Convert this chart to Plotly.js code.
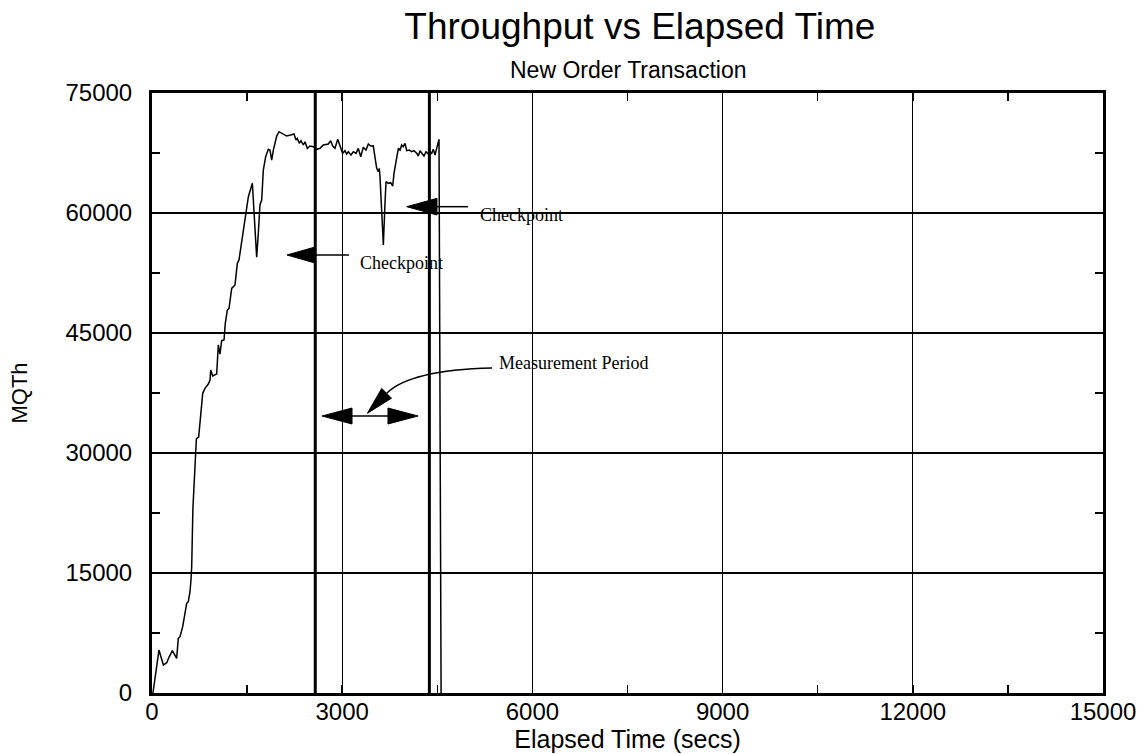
<!DOCTYPE html>
<html>
<head>
<meta charset="utf-8">
<script src="https://cdn.plot.ly/plotly-3.0.1.min.js"></script>
<style>html,body{margin:0;padding:0;background:#fff;}#chart{width:1143px;height:754px;}</style>
</head>
<body>
<div id="chart"></div>
<script>
// Elapsed time (secs)
const elapsedTime = [15,110,179,232,268,321,352,389,415,442,484,521,547,573,599,615,626,645,670,700,736,768,800,836,888,915,926,957,1020,1046,1072,1099,1136,1156,1188,1215,1257,1309,1346,1372,1399,1441,1483,1520,1583,1614,1651,1677,1703,1730,1756,1793,1835,1861,1888,1914,1940,1967,2003,2071,2124,2187,2240,2271,2292,2324,2350,2387,2413,2450,2492,2545,2598,2650,2702,2781,2818,2850,2886,2929,2965,3007,3044,3070,3097,3139,3176,3218,3254,3292,3333,3375,3412,3449,3490,3517,3544,3570,3585,3596,3623,3649,3675,3691,3728,3765,3797,3817,3849,3886,3912,3938,3964,3991,4017,4059,4096,4132,4175,4201,4227,4254,4290,4322,4358,4385,4411,4437,4464,4490,4527,4560];
// Throughput (MQTh)
const mqth = [0,5370,3500,3790,4460,5290,4870,4330,6830,7040,8290,9750,11210,11410,12660,14120,15790,23000,27500,31800,32000,34540,37460,38080,38620,39120,40370,39620,39870,43500,42370,44040,44120,46210,47870,48080,50580,51000,53710,54120,55580,58290,60580,62040,63710,59540,54460,57460,61000,61620,65370,67040,67960,67870,66620,67870,68910,69620,70160,69870,69620,69750,69870,69120,69330,68710,69040,68500,68910,68080,68370,68290,67960,68080,68500,68620,69040,68370,68080,69210,68500,67460,67790,67370,67660,67250,67660,67460,68080,67040,68210,67870,68620,68370,68400,67040,65580,65160,65580,64540,60790,56000,61210,63910,63710,63790,63370,64960,66410,68080,67870,68500,68290,68710,67790,67870,67660,67790,67460,67120,67790,67460,67120,67660,67370,67660,67460,67960,67250,68080,69210,0];
// Measurement period boundaries (secs)
const measurementWindow = [2575, 4375];
const xTicks = [0, 3000, 6000, 9000, 12000, 15000];
const yTicks = [0, 15000, 30000, 45000, 60000, 75000];
const xTickLabels = ['0','3000','6000','9000','12000','15000'];
const yTickLabels = ['0','15000','30000','45000','60000','75000'];

const sans = 'Liberation Sans, Arial, Helvetica, sans-serif';
const serif = 'Liberation Serif, Times New Roman, serif';

const trace = {
  x: elapsedTime, y: mqth, type: 'scatter', mode: 'lines',
  line: {color: '#000', width: 1.5}, hoverinfo: 'skip', showlegend: false
};

const shapes = measurementWindow.map(t => ({
  type: 'line', xref: 'x', yref: 'paper', x0: t, x1: t, y0: 0, y1: 1,
  line: {color: '#000', width: 3}
}));

function tri(p) { return {type:'path', xref:'x', yref:'y', path: p, fillcolor:'#000', line:{color:'#000', width:1}}; }
function seg(x0,y0,x1,y1){ return {type:'line', xref:'x', yref:'y', x0:x0, y0:y0, x1:x1, y1:y1, line:{color:'#000', width:1.5}}; }
// Checkpoint arrow 1
shapes.push(tri('M2129,54750 L2571,55750 L2571,53750 Z'));
shapes.push(seg(2571,54750,3107,54750));
// Checkpoint arrow 2
shapes.push(tri('M4017,60790 L4495,61830 L4495,59750 Z'));
shapes.push(seg(4495,60790,4984,60790));
// Measurement period double arrow
shapes.push(tri('M2681,34625 L3155,35625 L3155,33625 Z'));
shapes.push(tri('M4196,34625 L3722,35625 L3722,33625 Z'));
shapes.push(seg(3155,34625,3722,34625));
// Curved pointer to the double arrow
shapes.push({type:'path', xref:'x', yref:'y', path:'M5363,40625 Q4069,40375 3702,37463', line:{color:'#000', width:1.5}});
shapes.push(tri('M3397,34963 L3778,36850 L3623,38075 Z'));

const annotations = [
  {text:'New Order Transaction', xref:'paper', yref:'paper', x:0.5, y:1.038, xanchor:'center', yanchor:'middle', showarrow:false, font:{family:sans, size:23, color:'#000'}},
  {text:'Checkpoint', xref:'x', yref:'y', x:3249, y:53750, xanchor:'left', yanchor:'middle', showarrow:false, font:{family:serif, size:18, color:'#000'}},
  {text:'Checkpoint', xref:'x', yref:'y', x:5142, y:59750, xanchor:'left', yanchor:'middle', showarrow:false, font:{family:serif, size:18, color:'#000'}},
  {text:'Measurement Period', xref:'x', yref:'y', x:5442, y:41250, xanchor:'left', yanchor:'middle', showarrow:false, font:{family:serif, size:18, color:'#000'}}
];

const axisCommon = {
  showline: true, linecolor: '#000', linewidth: 3, mirror: 'allticks',
  showgrid: true, gridcolor: '#000', gridwidth: 1.3, zeroline: false,
  ticks: 'inside', ticklen: 8, tickwidth: 1.5, tickcolor: '#000',
  tickfont: {family: sans, size: 24, color: '#000'}
};

const layout = {
  width: 1143, height: 754,
  margin: {l: 152, r: 40, t: 93, b: 61},
  paper_bgcolor: '#fff', plot_bgcolor: '#fff',
  font: {family: sans, color: '#000'},
  title: {text: 'Throughput vs Elapsed Time', font: {family: sans, size: 37, color: '#000'}, x: 0.513, xref: 'paper', xanchor: 'center', y: 0.966, yref: 'container', yanchor: 'middle'},
  xaxis: Object.assign({}, axisCommon, {
    range: [0, 15000], tickvals: xTicks, ticktext: xTickLabels,
    minor: {dtick: 1500, tick0: 0, ticks: 'inside', ticklen: 8, tickwidth: 1.5, tickcolor: '#000', showgrid: false},
    ticklabelstandoff: -5,
    title: {text: 'Elapsed Time (secs)', font: {family: sans, size: 25, color: '#000'}, standoff: 2}
  }),
  yaxis: Object.assign({}, axisCommon, {
    range: [0, 75000], tickvals: yTicks, ticktext: yTickLabels,
    minor: {dtick: 7500, tick0: 0, ticks: 'inside', ticklen: 8, tickwidth: 1.5, tickcolor: '#000', showgrid: false},
    ticklabelstandoff: 12,
    title: {text: 'MQTh', font: {family: sans, size: 22, color: '#000'}, standoff: 32}
  }),
  shapes: shapes,
  annotations: annotations
};

Plotly.newPlot('chart', [trace], layout, {displayModeBar: false, staticPlot: true});
</script>
</body>
</html>
